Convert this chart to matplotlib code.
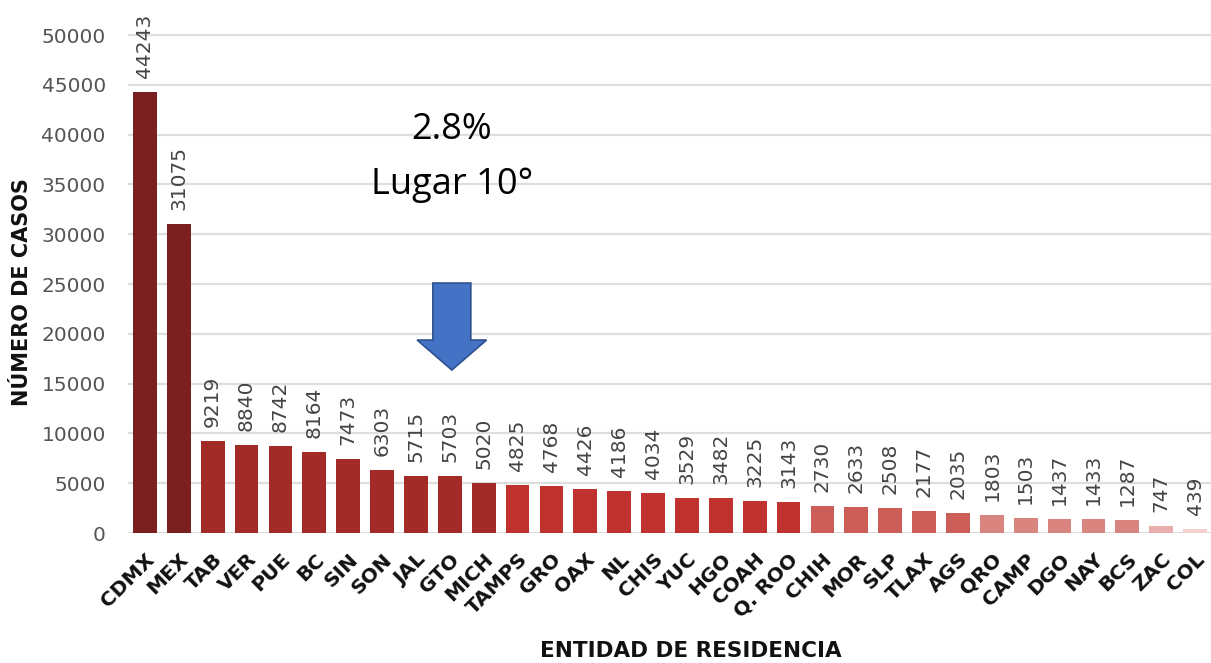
import matplotlib
matplotlib.use("Agg")
import matplotlib.pyplot as plt
from matplotlib.patches import FancyArrow

# casos por entidad de residencia
entidades = ['CDMX', 'MEX', 'TAB', 'VER', 'PUE', 'BC', 'SIN', 'SON', 'JAL', 'GTO',
             'MICH', 'TAMPS', 'GRO', 'OAX', 'NL', 'CHIS', 'YUC', 'HGO', 'COAH', 'Q. ROO',
             'CHIH', 'MOR', 'SLP', 'TLAX', 'AGS', 'QRO', 'CAMP', 'DGO', 'NAY', 'BCS',
             'ZAC', 'COL']
casos = [44243, 31075, 9219, 8840, 8742, 8164, 7473, 6303, 5715, 5703,
         5020, 4825, 4768, 4426, 4186, 4034, 3529, 3482, 3225, 3143,
         2730, 2633, 2508, 2177, 2035, 1803, 1503, 1437, 1433, 1287,
         747, 439]
y_ticks = [0, 5000, 10000, 15000, 20000, 25000, 30000, 35000, 40000, 45000, 50000]
destacado = 'GTO'
nota = '2.8%\nLugar 10°'


def color_for(v):
    # escala por rango de casos
    if v >= 20000:
        return '#7B2020'
    if v >= 5000:
        return '#A32B27'
    if v >= 3000:
        return '#C0322E'
    if v >= 2000:
        return '#CC5D57'
    if v >= 1000:
        return '#D9847F'
    if v >= 500:
        return '#E8AFAD'
    return '#F2D3D2'


fig = plt.figure(figsize=(12.11, 6.63), dpi=100)
ax = fig.add_axes([0.1057, 0.196, 0.8943, 0.804])

x = list(range(len(entidades)))
colors = [color_for(v) for v in casos]
ax.bar(x, casos, width=0.7, color=colors, zorder=3)

for xi, v in zip(x, casos):
    ax.annotate(str(v), (xi, v), xytext=(0, 10), textcoords='offset points',
                rotation=90, ha='center', va='bottom', fontsize=14.5,
                color='#444444', annotation_clip=False)

ax.set_xlim(-0.5, 31.47)
ax.set_ylim(0, 53514)
ax.set_yticks(y_ticks)
ax.set_yticklabels([str(t) for t in y_ticks], fontsize=14.5, color='#555555')
ax.yaxis.grid(True, color='#DEDEDE', linewidth=1.6, zorder=0)
ax.set_axisbelow(True)
ax.tick_params(axis='both', length=0)
ax.tick_params(axis='y', pad=16)
for s in ax.spines.values():
    s.set_visible(False)

ax.set_xticks(x)
ax.set_xticklabels(entidades, rotation=45, ha='right', rotation_mode='anchor',
                   fontsize=14.5, fontweight='bold', color='#111111')
ax.tick_params(axis='x', pad=12)

fig.text(0.018, 0.56, 'NÚMERO DE CASOS', rotation=90, ha='center', va='center',
         fontsize=15, fontweight='bold', color='#111111')
fig.text(0.5707, 0.003, 'ENTIDAD DE RESIDENCIA', ha='center', va='bottom',
         fontsize=15.5, fontweight='bold', color='#111111')

# flecha y nota sobre GTO
gx = entidades.index(destacado) + 0.06
ax.add_patch(FancyArrow(gx, 25100, 0, -25100 + 16365, width=1.12,
                        head_width=2.05, head_length=3012,
                        length_includes_head=True, facecolor='#4472C4',
                        edgecolor='#2F528F', linewidth=1.2, zorder=5))
ax.text(gx, 37700, nota, ha='center', va='center', fontsize=26,
        family='Open Sans', color='#000000', linespacing=1.7)

fig.savefig('out.png', dpi=100)
